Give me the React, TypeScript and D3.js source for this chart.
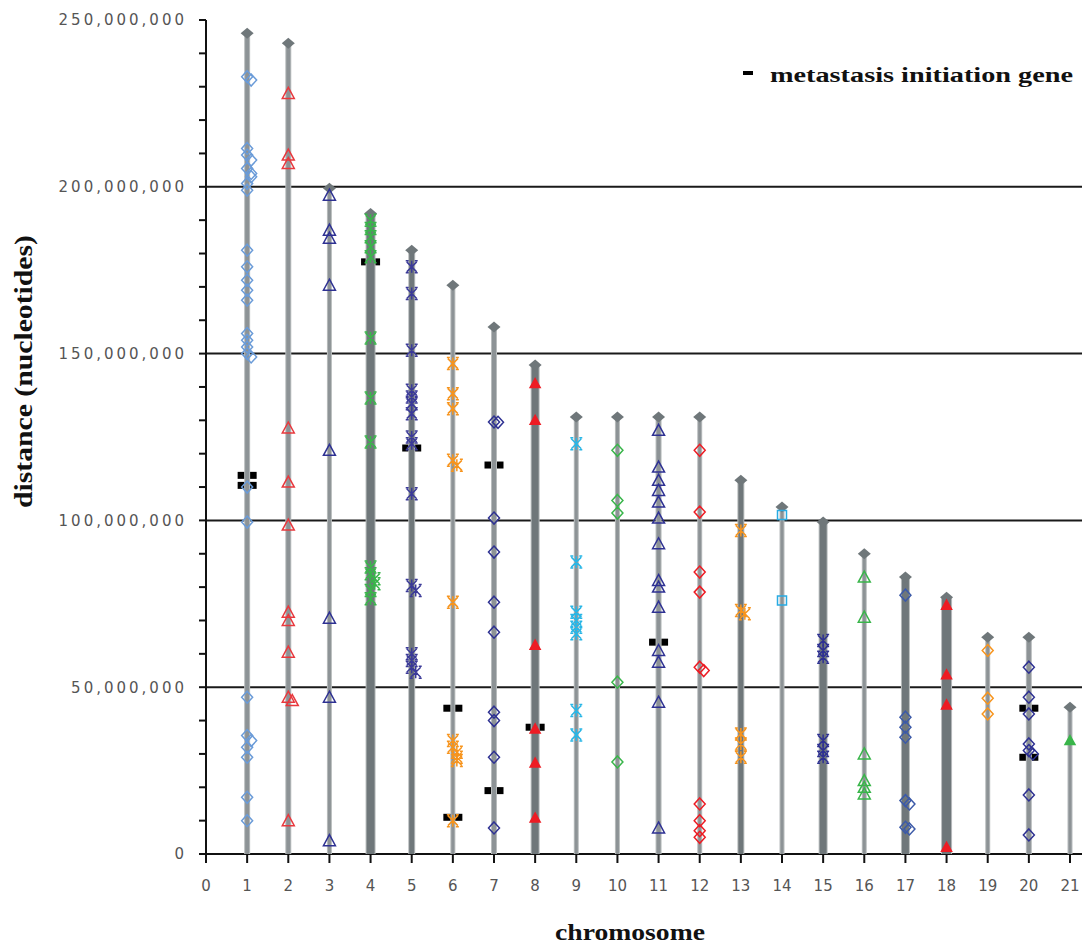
import React, { useEffect } from 'react'
import * as d3 from 'd3'

// chromosome lengths and marker positions, in megabases
const chromosomes = d3.range(1, 22)
const chromosomeLengths = [246, 243, 199.6, 192, 181, 170.5, 158, 146.6, 131, 131, 131, 131, 112, 104, 99.5, 90, 83, 77, 65, 65, 44]

const chr1 = [233, 232, 211.5, 209.5, 208, 205.5, 204, 203, 201, 199, 181, 176, 172, 169, 166, 156, 154, 152, 150, 149, 110, 99.5, 47, 35.5, 34, 32, 29, 17, 10]
const chr2 = [228, 209.5, 207, 127.7, 111.5, 98.6, 72.5, 70, 60.5, 47, 46, 10]
const chr3 = [197.5, 187, 184.6, 170.5, 121, 70.7, 47, 4]
const chr4 = [190, 187.5, 185, 182, 179, 154.7, 136.7, 123.5, 86, 84, 82.5, 81, 79, 76.5]
const chr5 = [176, 168, 151, 139, 137, 135, 132, 125, 123, 108, 80.5, 79, 60, 58, 56, 54.5]
const chr6 = [147, 138, 133.5, 118, 116.5, 75.5, 34, 32, 30.5, 29, 28, 10]
const chr7 = [129.5, 129.4, 100.7, 90.5, 75.5, 66.5, 42.5, 40, 29, 7.8]
const chr8 = [141, 130, 62.6, 37.5, 27.3, 10.8]
const chr9 = [123, 87.5, 72.5, 70, 68, 66, 43, 35.7]
const chr10 = [121, 106, 102.2, 51.5, 27.6]
const chr11 = [127, 116, 112, 109, 105.5, 100.7, 93, 82, 80, 74, 61, 57.5, 45.5, 7.8]
const chr12 = [121, 102.5, 84.5, 78.5, 56, 55, 15, 10, 7, 5]
const chr13 = [97, 73, 72, 36, 33, 29]
const chr14 = [101.6, 76]
const chr15 = [64, 61, 59, 34, 31, 29]
const chr16 = [83, 71, 30, 22, 20, 18]
const chr17 = [77.6, 41, 38, 35, 16, 15, 8, 7.5]
const chr18 = [74.6, 53.7, 44.7, 2]
const chr19 = [61, 46.7, 42]
const chr20 = [56, 47, 42, 33, 31, 30, 17.7, 5.7]
const chr21 = [34]
const positions = [chr1, chr2, chr3, chr4, chr5, chr6, chr7, chr8, chr9, chr10, chr11, chr12, chr13, chr14, chr15, chr16, chr17, chr18, chr19, chr20, chr21]

const geneChromosome = [1, 1, 4, 5, 6, 6, 7, 7, 8, 11, 20, 20]
const genePosition = [113.5, 110.5, 177.5, 121.7, 43.7, 11, 116.6, 19, 38, 63.5, 43.7, 29]

const yTickValues = [0, 50e6, 100e6, 150e6, 200e6, 250e6]
const xTickValues = d3.range(0, 22)

// marker style for each chromosome
const markerShape = ['diamond', 'triangle', 'triangle', 'star', 'star', 'star', 'diamond', 'triFill', 'star', 'diamond', 'triangle', 'diamond', 'star', 'square', 'star', 'triangle', 'diamond', 'triFill', 'diamond', 'diamond', 'triFill']
const markerColor = ['#6a9bd8', '#e8383d', '#2e3192', '#39b54a', '#3b3a98', '#f7941d', '#2e3192', '#ed1c24', '#29b6e6', '#39b54a', '#2e3192', '#ed1c24', '#f7941d', '#29abe2', '#2e3192', '#39b54a', '#3c5aa8', '#ed1c24', '#f7941d', '#2e3192', '#39b54a']
const lineWidth = [4, 4, 3, 8, 5, 3, 4, 7, 3, 3, 4, 3, 5, 3, 7, 3, 7, 9, 3, 4, 3]

function markerPath(shape: string) {
  if (shape === 'diamond') return 'M0,-6L5.5,0L0,6L-5.5,0Z'
  if (shape === 'triangle') return 'M0,-6L6,5L-6,5Z'
  if (shape === 'triFill') return 'M0,-5L5,4L-5,4Z'
  if (shape === 'square') return 'M-4.5,-4.5H4.5V4.5H-4.5Z'
  return 'M-5,-5L5,5M5,-5L-5,5M0,-6V6M-6,-6H-3M3,-6H6M-6,6H-3M3,6H6'
}

export default function App() {
  useEffect(() => {
    document.body.style.margin = '0'
  }, [])

  const width = 1085
  const height = 947
  const x = d3.scaleLinear().domain([0, 21]).range([206, 1070])
  const y = d3.scaleLinear().domain([0, 250e6]).range([854, 20])
  const fmt = d3.format(',')

  return (
    <svg width={width} height={height} style={{ display: 'block', background: '#fff' }}>
      {/* grid lines */}
      {yTickValues.slice(1, 5).map(v => (
        <line key={v} x1={206} x2={1082} y1={y(v)} y2={y(v)} stroke="#1a1a1a" strokeWidth={2} />
      ))}

      {/* y axis */}
      <line x1={206} x2={206} y1={y(250e6)} y2={y(0)} stroke="#111" strokeWidth={2} />
      {d3.range(0, 260e6, 10e6).map(v => (
        <line key={v} x1={199} x2={206} y1={y(v)} y2={y(v)} stroke="#111" strokeWidth={2} />
      ))}
      {yTickValues.map(v => (
        <text key={v} x={187} y={y(v)} dy="0.36em" textAnchor="end" fontFamily="DejaVu Sans" fontSize={15}
          letterSpacing={3} fill="#555">{fmt(v)}</text>
      ))}

      {/* x axis */}
      <line x1={200} x2={1082} y1={y(0)} y2={y(0)} stroke="#111" strokeWidth={2} />
      {xTickValues.map(v => (
        <line key={v} x1={x(v)} x2={x(v)} y1={y(0)} y2={y(0) + 9} stroke="#111" strokeWidth={2} />
      ))}
      {xTickValues.map(v => (
        <text key={v} x={x(v)} y={891} textAnchor="middle" fontFamily="DejaVu Sans" fontSize={15} fill="#555">{v}</text>
      ))}

      {/* metastasis initiation genes */}
      {geneChromosome.map((c, i) => (
        <rect key={i} x={x(c) - 9.5} y={y(genePosition[i] * 1e6) - 3.5} width={19} height={7} fill="#000" />
      ))}

      {/* chromosome bars */}
      {chromosomes.map((c, i) => (
        <g key={c}>
          <line x1={x(c)} x2={x(c)} y1={y(0)} y2={y(chromosomeLengths[i] * 1e6)} stroke="#b8bcbd" strokeWidth={lineWidth[i] + 2} />
          <line x1={x(c)} x2={x(c)} y1={y(0)} y2={y(chromosomeLengths[i] * 1e6)}
            stroke={lineWidth[i] >= 5 ? '#6f777a' : '#8d9396'} strokeWidth={lineWidth[i]} />
          <path d="M0,-5.5L6.5,0L0,5.5L-6.5,0Z" fill="#6f777a"
            transform={`translate(${x(c)},${y(chromosomeLengths[i] * 1e6)})`} />
        </g>
      ))}

      {/* gene markers */}
      {positions.map((list, i) => list.map((p, j) => {
        const close = j > 0 && Math.abs(list[j - 1] - p) < 1.6
        const dx = close ? 4 : 0
        const shape = markerShape[i]
        const filled = shape === 'triFill'
        return (
          <path key={`${i}-${j}`} d={markerPath(shape)}
            transform={`translate(${x(i + 1) + dx},${y(p * 1e6)})`}
            fill={filled ? markerColor[i] : 'none'}
            stroke={markerColor[i]} strokeWidth={1.5} />
        )
      }))}

      {/* legend */}
      <rect x={743} y={71} width={10} height={4} fill="#000" />
      <text x={770} y={82} fontFamily="Liberation Serif" fontWeight="bold" fontSize={20}
        textLength={303} lengthAdjust="spacingAndGlyphs" fill="#111">metastasis initiation gene</text>

      {/* axis titles */}
      <text x={555} y={940} fontFamily="Liberation Serif" fontWeight="bold" fontSize={23}
        textLength={150} lengthAdjust="spacingAndGlyphs" fill="#111">chromosome</text>
      <text transform="translate(32,508) rotate(-90)" fontFamily="Liberation Serif" fontWeight="bold" fontSize={25}
        textLength={273} lengthAdjust="spacingAndGlyphs" fill="#111">distance (nucleotides)</text>
    </svg>
  )
}
